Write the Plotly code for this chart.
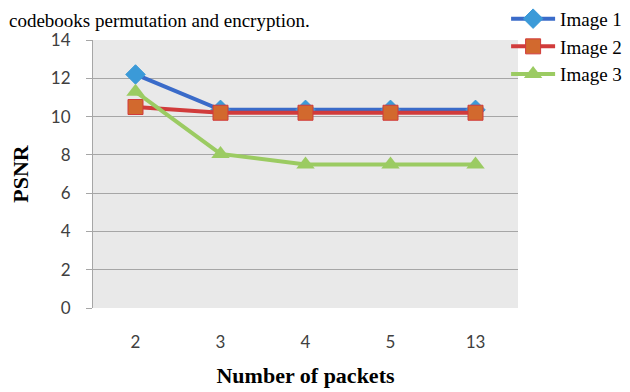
import plotly.graph_objects as go

categories = ["2", "3", "4", "5", "13"]
image1 = [12.2, 10.35, 10.35, 10.35, 10.35]
image2 = [10.5, 10.2, 10.2, 10.2, 10.2]
image3 = [11.3, 8.05, 7.5, 7.5, 7.5]
y_ticks = [0, 2, 4, 6, 8, 10, 12, 14]

fig = go.Figure()
fig.add_trace(go.Scatter(x=categories, y=image1, name="Image 1", mode="lines+markers",
                         line=dict(color="#3a6bc9", width=4),
                         marker=dict(symbol="diamond", size=15, color="#3b9ad8",
                                     line=dict(color="#3b9ad8", width=1))))
fig.add_trace(go.Scatter(x=categories, y=image2, name="Image 2", mode="lines+markers",
                         line=dict(color="#d13b3b", width=4),
                         marker=dict(symbol="square", size=15, color="#d2692e",
                                     line=dict(color="#d13b3b", width=1))))
fig.add_trace(go.Scatter(x=categories, y=image3, name="Image 3", mode="lines+markers",
                         line=dict(color="#9bcb62", width=4),
                         marker=dict(symbol="triangle-up", size=16, color="#9bcb62")))

fig.update_layout(
    width=622, height=384,
    margin=dict(l=85, r=112, t=32, b=84, autoexpand=False),
    paper_bgcolor="white", plot_bgcolor="#e9e9e9",
    font=dict(family="Liberation Serif", color="black"),
    legend=dict(x=0.972, y=1.15, xanchor="left", yanchor="top",
                font=dict(family="Liberation Serif", size=19, color="black"),
                bgcolor="rgba(255,255,255,0)", tracegroupgap=0, itemwidth=44),
    showlegend=True,
    annotations=[dict(text="codebooks permutation and encryption.", x=0.0, xref="paper",
                      xshift=-86, y=1.0, yref="paper", yshift=32, xanchor="left",
                      yanchor="top", showarrow=False,
                      font=dict(family="Liberation Serif", size=19))],
)
fig.update_xaxes(type="category", range=[-0.5, 4.5], showgrid=False, showline=False,
                 ticks="", ticklabelstandoff=22,
                 tickfont=dict(family="Lato", size=17, color="#404040"),
                 title=dict(text="<b>Number of packets</b>", standoff=16,
                            font=dict(family="Liberation Serif", size=22)))
fig.update_yaxes(range=[0, 14], tickvals=y_ticks, showgrid=True, gridcolor="#a6a6a6",
                 gridwidth=1, showline=True, linecolor="#a6a6a6", ticks="outside",
                 ticklen=6, tickcolor="#a6a6a6", zeroline=False, ticklabelstandoff=12,
                 tickfont=dict(family="Lato", size=17, color="#404040"),
                 title=dict(text="<b>PSNR</b>", standoff=18,
                            font=dict(family="Liberation Serif", size=22)))

fig.write_html("out.html")
